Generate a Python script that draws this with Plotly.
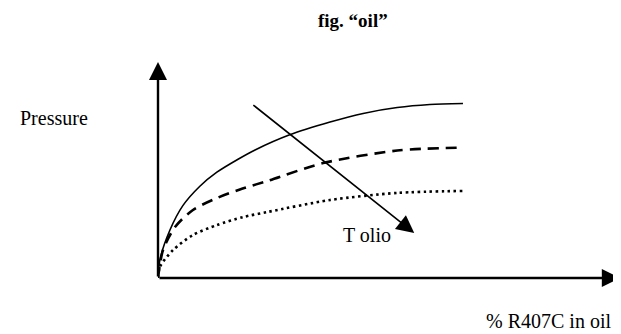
import plotly.graph_objects as go

# values (x: % R407C in oil, y: pressure, arbitrary units 0-100)
x_solid = [0, 0.4, 2.6, 5.4, 9.1, 12.8, 17.4, 21.1, 28.5, 37.4, 44.6, 52.0, 59.1, 66.3]
y_solid = [0, 8.3, 22.2, 33.5, 42.5, 49.0, 55.0, 59.3, 66.2, 72.2, 76.2, 78.9, 80.3, 80.8]

x_dash = [0, 1.1, 3.7, 7.6, 12.8, 17.8, 23.9, 35.9, 52.0, 66.3]
y_dash = [0, 13.0, 23.6, 31.5, 37.0, 41.0, 45.0, 53.2, 59.0, 60.4]

x_dot = [0, 0.4, 3.3, 7.6, 12.8, 18.5, 23.9, 37.4, 52.0, 66.3]
y_dot = [0, 5.1, 13.0, 19.9, 24.5, 28.2, 30.6, 36.1, 39.4, 40.3]

# arrow showing increasing oil temperature
t_arrow_start = (20.4, 80.6)
t_arrow_end = (55.7, 20.8)

font = "Liberation Serif, Times New Roman, serif"

fig = go.Figure()

fig.add_trace(go.Scatter(x=x_solid, y=y_solid, mode="lines", line_shape="spline",
                         line=dict(color="black", width=1.6, smoothing=0.8), showlegend=False))
fig.add_trace(go.Scatter(x=x_dash, y=y_dash, mode="lines", line_shape="spline",
                         line=dict(color="black", width=2.6, dash="11px,7px", smoothing=0.8),
                         showlegend=False))
fig.add_trace(go.Scatter(x=x_dot, y=y_dot, mode="lines", line_shape="spline",
                         line=dict(color="black", width=2.6, dash="2.5px,3.5px", smoothing=0.8),
                         showlegend=False))
# stray dot under the origin
fig.add_trace(go.Scatter(x=[0.2], y=[-2.3], mode="markers",
                         marker=dict(color="black", size=4, symbol="square"),
                         showlegend=False, cliponaxis=False))

anns = []
# axes drawn as arrows
anns.append(dict(x=0, y=100, ax=0, ay=0, xref="x", yref="y", axref="x", ayref="y",
                 showarrow=True, arrowhead=2, arrowsize=1.5, arrowwidth=2.4, arrowcolor="black", text=""))
anns.append(dict(x=100.4, y=0, ax=0, ay=0, xref="x", yref="y", axref="x", ayref="y",
                 showarrow=True, arrowhead=2, arrowsize=1.5, arrowwidth=2.4, arrowcolor="black", text=""))
anns.append(dict(x=t_arrow_end[0], y=t_arrow_end[1], ax=t_arrow_start[0], ay=t_arrow_start[1],
                 xref="x", yref="y", axref="x", ayref="y",
                 showarrow=True, arrowhead=2, arrowsize=2.2, arrowwidth=1.6, arrowcolor="black", text=""))

txt = dict(showarrow=False, xanchor="center", yanchor="middle",
           font=dict(family=font, size=20, color="black"))
anns.append(dict(x=45.4, y=19.9, xref="x", yref="y", text="T olio", **txt))
anns.append(dict(x=-0.226, y=0.741, xref="paper", yref="paper", text="Pressure", **txt))
anns.append(dict(x=0.848, y=-0.199, xref="paper", yref="paper", text="% R407C in oil", **txt))
anns.append(dict(x=0.424, y=1.19, xref="paper", yref="paper", text="<b>fig. \u201coil\u201d</b>",
                 showarrow=False, xanchor="center", yanchor="middle",
                 font=dict(family=font, size=19, color="black")))

fig.update_layout(
    width=621, height=334,
    margin=dict(l=150, r=11, t=54, b=64),
    paper_bgcolor="white", plot_bgcolor="white",
    xaxis=dict(range=[0, 100], visible=False, fixedrange=True),
    yaxis=dict(range=[0, 100], visible=False, fixedrange=True),
    annotations=anns,
)

fig.write_html("out.html")
